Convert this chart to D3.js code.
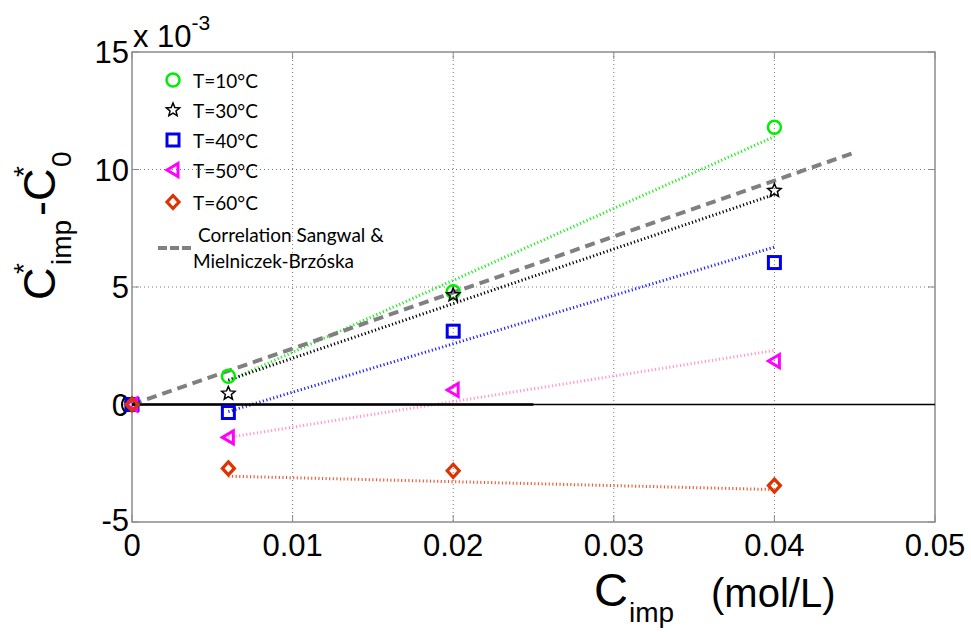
<!DOCTYPE html>
<html><head><meta charset="utf-8">
<script src="https://cdn.jsdelivr.net/npm/d3@7/dist/d3.min.js"></script>
<style>body{margin:0;background:#fff}svg{display:block}</style>
</head><body>
<svg id="c" width="971" height="632"></svg>
<script>
const xData = [0, 0.006, 0.02, 0.04];
const t10 = [0, 1.2, 4.8, 11.8];
const t30 = [0, 0.47, 4.66, 9.1];
const t40 = [0, -0.34, 3.12, 6.04];
const t50 = [0, -1.4, 0.62, 1.85];
const t60 = [0, -2.72, -2.82, -3.45];
const fitX = [0.006, 0.04];
const fit10 = [1.0, 11.4];
const fit30 = [1.04, 8.94];
const fit40 = [-0.3, 6.7];
const fit50 = [-1.4, 2.3];
const fit60 = [-3.05, -3.62];
const corrX = [0, 0.045];
const corrY = [0, 10.72];
const zeroThickX = [0, 0.025];
const zeroX = [0, 0.05];
const xTicks = [0, 0.01, 0.02, 0.03, 0.04, 0.05];
const xTickLabels = ["0", "0.01", "0.02", "0.03", "0.04", "0.05"];
const yTicks = [-5, 0, 5, 10, 15];
const yTickLabels = ["-5", "0", "5", "10", "15"];
const legendLabels = ["T=10°C", "T=30°C", "T=40°C", "T=50°C", "T=60°C"];

const svg = d3.select("#c");
const x = d3.scaleLinear().domain([0, 0.05]).range([132, 935]);
const y = d3.scaleLinear().domain([-5, 15]).range([522, 52]);
const axisCol = "#8c8c8c";
const fontA = "Liberation Sans, Arial, sans-serif";

// grid
const g = svg.append("g");
xTicks.slice(1, -1).forEach(t => g.append("line").attr("x1", x(t)).attr("x2", x(t)).attr("y1", y(15)).attr("y2", y(-5))
  .attr("stroke", "#777").attr("stroke-width", 1).attr("stroke-dasharray", "1,3"));
yTicks.slice(1, -1).forEach(t => g.append("line").attr("x1", x(0)).attr("x2", x(0.05)).attr("y1", y(t)).attr("y2", y(t))
  .attr("stroke", "#777").attr("stroke-width", 1).attr("stroke-dasharray", "1,3"));

// frame
svg.append("rect").attr("x", x(0)).attr("y", y(15)).attr("width", x(0.05) - x(0)).attr("height", y(-5) - y(15))
  .attr("fill", "none").attr("stroke", axisCol).attr("stroke-width", 1.5);

// ticks (inward)
xTicks.forEach(t => {
  svg.append("line").attr("x1", x(t)).attr("x2", x(t)).attr("y1", y(-5)).attr("y2", y(-5) - 7).attr("stroke", axisCol);
  svg.append("line").attr("x1", x(t)).attr("x2", x(t)).attr("y1", y(15)).attr("y2", y(15) + 7).attr("stroke", axisCol);
});
yTicks.forEach(t => {
  svg.append("line").attr("x1", x(0)).attr("x2", x(0) + 7).attr("y1", y(t)).attr("y2", y(t)).attr("stroke", axisCol);
  svg.append("line").attr("x1", x(0.05)).attr("x2", x(0.05) - 7).attr("y1", y(t)).attr("y2", y(t)).attr("stroke", axisCol);
});

// tick labels
xTicks.forEach((t, i) => svg.append("text").attr("x", x(t)).attr("y", 556).attr("text-anchor", "middle")
  .attr("font-family", fontA).attr("font-size", 31).text(xTickLabels[i]));
yTicks.forEach((t, i) => svg.append("text").attr("x", 129).attr("y", y(t) + (t === -5 ? 9 : 11)).attr("text-anchor", "end")
  .attr("font-family", fontA).attr("font-size", 31).text(yTickLabels[i]));

// x10^-3
const ex = svg.append("text").attr("x", 133).attr("y", 47).attr("font-family", fontA).attr("font-size", 31);
ex.append("tspan").text("x 10");
ex.append("tspan").attr("font-size", 21).attr("dy", -17).text("-3");

// fit lines
const line = d3.line().x(d => x(d[0])).y(d => y(d[1]));
const fits = [[fit10, "#22ee22"], [fit30, "#000"], [fit40, "#2222ff"], [fit50, "#ff99cc"], [fit60, "#e8603a"]];
fits.forEach(([f, c]) => svg.append("path").attr("d", line(fitX.map((v, i) => [v, f[i]])))
  .attr("fill", "none").attr("stroke", c).attr("stroke-width", 3).attr("stroke-dasharray", "1.2,2.4"));

// correlation line
svg.append("path").attr("d", line(corrX.map((v, i) => [v, corrY[i]])))
  .attr("fill", "none").attr("stroke", "#808080").attr("stroke-width", 4).attr("stroke-dasharray", "10,6");

// zero line
svg.append("path").attr("d", line(zeroX.map(v => [v, 0]))).attr("stroke", "#000").attr("stroke-width", 1.6);
svg.append("path").attr("d", line(zeroThickX.map(v => [v, 0]))).attr("stroke", "#000").attr("stroke-width", 2.6);

// markers
const starPath = (r) => {
  let p = [];
  for (let k = 0; k < 10; k++) {
    const a = -Math.PI / 2 + k * Math.PI / 5;
    const rr = k % 2 === 0 ? r : r * 0.45;
    p.push([rr * Math.cos(a), rr * Math.sin(a)]);
  }
  return "M" + p.map(q => q.join(",")).join("L") + "Z";
};
// black arc visible at the origin in the reference
svg.append("path").attr("transform", `translate(${x(xData[0])},${y(t30[0])})`)
  .attr("d", d3.arc()({innerRadius: 9, outerRadius: 11, startAngle: Math.PI * 1.2, endAngle: Math.PI * 1.8}))
  .attr("fill", "#000");
const markers = [
  {data: t10, col: "#00ee00", draw: (s) => s.append("circle").attr("r", 6.5).attr("fill", "none").attr("stroke-width", 2.5)},
  {data: t30, col: "#000", draw: (s) => s.append("path").attr("d", starPath(7)).attr("fill", "none").attr("stroke-width", 1.5)},
  {data: t40, col: "#0000ee", draw: (s) => s.append("rect").attr("x", -6).attr("y", -6).attr("width", 12).attr("height", 12).attr("fill", "none").attr("stroke-width", 3)},
  {data: t50, col: "#ff00ff", draw: (s) => s.append("path").attr("d", "M-6,0L5,-6.5L5,6.5Z").attr("fill", "none").attr("stroke-width", 3)},
  {data: t60, col: "#dd3300", draw: (s) => s.append("path").attr("d", "M0,-6.5L6,0L0,6.5L-6,0Z").attr("fill", "none").attr("stroke-width", 3.2)}
];
markers.forEach(m => {
  m.data.forEach((v, i) => {
    const s = svg.append("g").attr("transform", `translate(${x(xData[i])},${y(v)})`).attr("stroke", m.col);
    m.draw(s);
  });
});

// legend
const legY = [80, 110, 140, 170, 202];
markers.forEach((m, i) => {
  const s = svg.append("g").attr("transform", `translate(173,${legY[i]})`).attr("stroke", m.col);
  m.draw(s);
  svg.append("text").attr("x", 193).attr("y", legY[i] + 8).attr("font-family", "Lato, sans-serif").attr("font-size", 19).text(legendLabels[i]);
});
svg.append("line").attr("x1", 158).attr("x2", 191).attr("y1", 248).attr("y2", 248)
  .attr("stroke", "#808080").attr("stroke-width", 4).attr("stroke-dasharray", "9,3");
svg.append("text").attr("x", 198).attr("y", 242).attr("font-family", "Lato, sans-serif").attr("font-size", 19).text("Correlation Sangwal &");
svg.append("text").attr("x", 193).attr("y", 268).attr("font-family", "Lato, sans-serif").attr("font-size", 19).text("Mielniczek-Brzóska");

// y label (rotated)
const yl = svg.append("g").attr("transform", "translate(55,300) rotate(-90)").attr("font-family", fontA);
yl.append("text").attr("x", 0).attr("y", 0).attr("font-size", 45).text("C");
yl.append("text").attr("x", 26).attr("y", -22).attr("font-size", 28).text("*");
yl.append("text").attr("x", 35).attr("y", 16).attr("font-size", 28).text("imp");
yl.append("text").attr("x", 84).attr("y", 0).attr("font-size", 45).text("-");
yl.append("text").attr("x", 99).attr("y", 0).attr("font-size", 45).text("C");
yl.append("text").attr("x", 123).attr("y", -22).attr("font-size", 28).text("*");
yl.append("text").attr("x", 133).attr("y", 16).attr("font-size", 28).text("0");

// x label
const xl = svg.append("g").attr("font-family", fontA);
xl.append("text").attr("x", 594).attr("y", 606).attr("font-size", 47).text("C");
xl.append("text").attr("x", 629).attr("y", 622).attr("font-size", 28).text("imp");
xl.append("text").attr("x", 711).attr("y", 607).attr("font-size", 40).text("(mol/L)");
</script>
</body></html>
